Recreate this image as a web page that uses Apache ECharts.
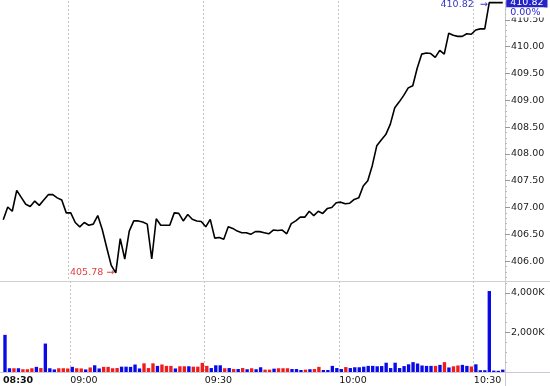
<!DOCTYPE html>
<html><head><meta charset="utf-8">
<script src="https://cdn.jsdelivr.net/npm/echarts@6/dist/echarts.min.js"></script>
<style>html,body{margin:0;padding:0;background:#fff}#c{width:550px;height:386px}</style>
</head><body><div id="c"></div><script>
// ---- data ----
const startTime = [8, 45];
const tickIdx = [0, 15, 45, 75, 105];
const tickLabels = ['08:30', '09:00', '09:30', '10:00', '10:30'];
const price = [
406.77,407.01,406.93,407.32,407.19,407.06,407.02,407.12,407.04,407.14,
407.24,407.24,407.18,407.14,406.90,406.90,406.72,406.64,406.72,406.67,
406.69,406.85,406.59,406.25,405.92,405.78,406.42,406.04,406.56,406.75,
406.75,406.73,406.69,406.04,406.79,406.67,406.67,406.67,406.90,406.89,
406.75,406.87,406.78,406.75,406.74,406.64,406.78,406.43,406.44,406.41,
406.64,406.61,406.56,406.53,406.53,406.50,406.55,406.55,406.53,406.51,
406.58,406.57,406.58,406.51,406.70,406.75,406.82,406.82,406.93,406.85,
406.93,406.89,406.98,407.00,407.09,407.10,407.07,407.08,407.15,407.18,
407.40,407.50,407.78,408.15,408.26,408.36,408.55,408.86,408.97,409.09,
409.23,409.27,409.60,409.86,409.88,409.87,409.80,409.93,409.86,410.25,
410.21,410.19,410.19,410.24,410.23,410.31,410.33,410.33,410.82,410.82,
410.82,410.82];
const volumeK = [
1880,190,190,190,140,140,190,260,200,1440,
190,130,190,190,180,260,190,180,130,230,
340,180,260,260,190,200,270,270,260,380,
180,440,200,440,310,380,310,310,180,290,
290,290,270,270,460,310,200,340,340,190,
200,150,150,200,140,190,140,240,120,120,
170,190,190,190,150,150,100,120,140,150,
260,100,100,310,200,150,250,200,240,240,
270,310,310,290,300,470,200,470,200,300,
390,500,430,330,310,310,310,360,500,230,
290,330,360,310,280,390,90,90,4100,70,
60,120];
const upBar = [
1,1,0,1,0,0,0,1,0,1,
1,1,0,0,0,1,0,0,1,0,
1,1,0,0,0,0,1,1,1,1,
1,0,0,0,1,0,0,0,1,0,
0,1,0,0,0,0,1,1,1,0,
1,0,1,0,1,0,1,1,0,0,
1,0,0,0,1,1,1,0,1,0,
0,1,1,1,1,1,0,1,1,1,
1,1,1,1,1,1,1,1,1,1,
1,1,1,1,1,1,0,1,0,1,
0,0,1,1,0,1,1,1,1,1,
1,1];
const priceTicks = [406, 406.5, 407, 407.5, 408, 408.5, 409, 409.5, 410, 410.5];
const priceMinorTicks = [405.7,405.8,405.9,406.1,406.2,406.3,406.4,406.6,406.7,406.8,406.9,407.1,407.2,407.3,407.4,407.6,407.7,407.8,407.9,408.1,408.2,408.3,408.4,408.6,408.7,408.8,408.9,409.1,409.2,409.3,409.4,409.6,409.7,409.8,409.9,410.1,410.2,410.3,410.4,410.6,410.7,410.8];
const volTicks = [2000, 4000];
const volMinorTicks = [500, 1000, 1500, 2500, 3000, 3500, 4500];
const changeText = '0.00%';
const priceRange = [405.63, 410.85];
const volRange = [0, 4608];

// categories: one per minute bar
const cats = [];
for (let i = 0; i < price.length; i++) {
  const m = startTime[0] * 60 + startTime[1] + i;
  cats.push(String(Math.floor(m / 60)).padStart(2, '0') + ':' + String(m % 60).padStart(2, '0'));
}
const last = price.length - 1;

const FONT = 'DejaVu Sans';
const FS = 9.5;
const BLUE = '#0a0ae6', RED = '#ee1c1c';
const gridShow = i => tickIdx.slice(1).indexOf(i) >= 0;
const splitStyle = { show: true, interval: gridShow, lineStyle: { color: '#c4c4c4', type: [2, 2], width: 1 } };
const fmtK = v => String(v).replace(/\B(?=(\d{3})+(?!\d))/g, ',') + 'K';

const chart = echarts.init(document.getElementById('c'));
chart.setOption({
  animation: false,
  textStyle: { fontFamily: FONT },
  grid: [
    { left: 1, right: 45, top: 1, height: 280 },
    { left: 1, right: 45, top: 281, height: 91 }
  ],
  xAxis: [
    { type: 'category', gridIndex: 0, data: cats, boundaryGap: true,
      axisLine: { show: false }, axisTick: { show: false }, axisLabel: { show: false }, splitLine: splitStyle },
    { type: 'category', gridIndex: 1, data: cats, boundaryGap: true,
      axisLine: { show: false }, axisTick: { show: false }, splitLine: splitStyle,
      axisLabel: { show: true, interval: i => tickIdx.indexOf(i) >= 0, align: 'left', margin: 4,
        padding: [0, 0, 0, -2], color: '#111', fontFamily: FONT, fontSize: FS,
        formatter: (v, i) => {
          const k = tickIdx.indexOf(i);
          return k === 0 ? '{b|' + tickLabels[k] + '}' : tickLabels[k];
        },
        rich: { b: { fontWeight: 'bold', fontFamily: FONT, fontSize: FS, color: '#111' } } } }
  ],
  yAxis: [
    { type: 'value', gridIndex: 0, position: 'right', min: priceRange[0], max: priceRange[1],
      splitLine: { show: false }, axisLine: { show: true, lineStyle: { color: '#c8c8c8' } },
      axisTick: { show: true, length: 5, customValues: priceTicks, lineStyle: { color: '#999' } },
      axisLabel: { customValues: priceTicks, formatter: v => v.toFixed(2), margin: 6, color: '#222', fontFamily: FONT, fontSize: FS } },
    { type: 'value', gridIndex: 0, position: 'right', min: priceRange[0], max: priceRange[1],
      splitLine: { show: false }, axisLine: { show: false }, axisLabel: { show: false },
      axisTick: { show: true, length: 2, customValues: priceMinorTicks, lineStyle: { color: '#bbb' } } },
    { type: 'value', gridIndex: 1, position: 'right', min: volRange[0], max: volRange[1],
      splitLine: { show: false }, axisLine: { show: true, lineStyle: { color: '#c8c8c8' } },
      axisTick: { show: true, length: 5, customValues: volTicks, lineStyle: { color: '#999' } },
      axisLabel: { customValues: volTicks, formatter: fmtK, margin: 6, color: '#222', fontFamily: FONT, fontSize: FS } },
    { type: 'value', gridIndex: 1, position: 'right', min: volRange[0], max: volRange[1],
      splitLine: { show: false }, axisLine: { show: false }, axisLabel: { show: false },
      axisTick: { show: true, length: 2, customValues: volMinorTicks, lineStyle: { color: '#bbb' } } }
  ],
  series: [
    { type: 'line', xAxisIndex: 0, yAxisIndex: 0, data: price, showSymbol: false, symbol: 'none',
      lineStyle: { color: '#000', width: 1.6 }, z: 5,
      markPoint: {
        symbol: 'circle', symbolSize: 1, itemStyle: { color: 'rgba(0,0,0,0)' },
        data: [
          { type: 'min', label: { show: true, position: 'left', distance: 1, color: '#e04040', fontFamily: FONT, fontSize: FS,
              formatter: p => p.value.toFixed(2) + ' \u2192' } },
          { type: 'max', label: { show: true, position: 'left', distance: 1, offset: [0, 2], color: '#3838c8', fontFamily: FONT, fontSize: FS,
              formatter: p => p.value.toFixed(2) + '  \u2192' } },
          { coord: [cats[last], price[last]], value: price[last],
            label: { show: true, position: 'right', distance: 3, offset: [0, 5], fontFamily: FONT, fontSize: FS,
              formatter: p => '{a|' + p.value.toFixed(2) + '}\n{b|' + changeText + '}',
              rich: {
                a: { backgroundColor: '#2424c8', color: '#fff', fontFamily: FONT, fontSize: FS, lineHeight: 10, height: 10, padding: [0, 4, 0, 4] },
                b: { backgroundColor: '#fff', color: '#2a2ad0', fontFamily: FONT, fontSize: FS, lineHeight: 10, height: 10, padding: [0, 4, 0, 4] }
              } } }
        ]
      } },
    { type: 'bar', xAxisIndex: 1, yAxisIndex: 2, data: volumeK, barCategoryGap: '25%',
      itemStyle: { color: p => upBar[p.dataIndex] ? BLUE : RED } }
  ],
  graphic: [
    { type: 'line', silent: true, z: 100, shape: { x1: 0, y1: 281.5, x2: 550, y2: 281.5 }, style: { stroke: '#cfcfcf', lineWidth: 1 } },
    { type: 'line', silent: true, z: 100, shape: { x1: 0, y1: 372.5, x2: 550, y2: 372.5 }, style: { stroke: '#c8c8d8', lineWidth: 1 } },
    { type: 'line', silent: true, z: 100, shape: { x1: 505.5, y1: 372, x2: 505.5, y2: 386 }, style: { stroke: '#c8c8c8', lineWidth: 1 } }
  ]
});
</script></body></html>
